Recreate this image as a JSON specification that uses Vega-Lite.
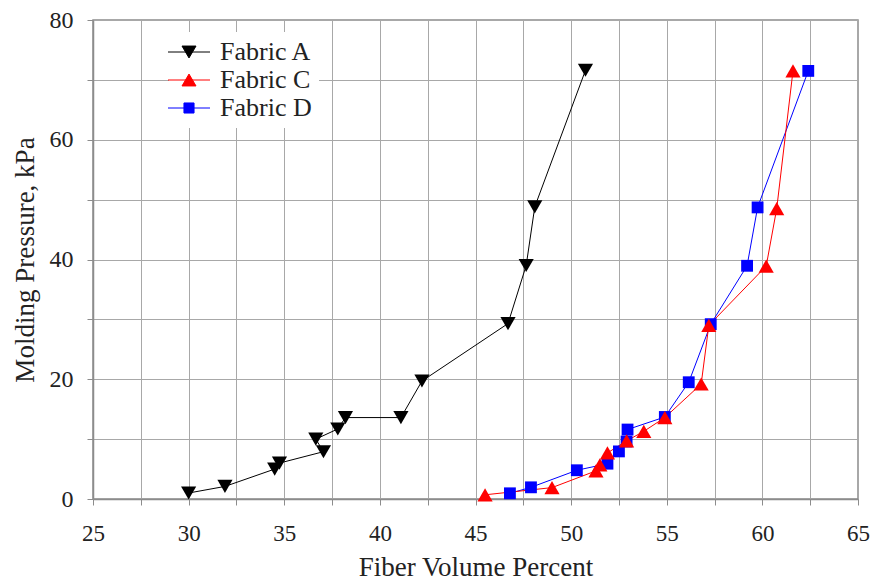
{
  "$schema": "https://vega.github.io/schema/vega-lite/v6.json",
  "autosize": "none",
  "width": 765,
  "height": 479,
  "padding": {"left": 93, "top": 20, "right": 12, "bottom": 83},
  "background": "white",
  "config": {
    "view": {"stroke": "#8c8c8c", "strokeWidth": 1.5},
    "font": "Liberation Serif",
    "axis": {
      "domainColor": "#8c8c8c",
      "domainWidth": 1.5,
      "gridColor": "#a8a8a8",
      "gridWidth": 1,
      "gridOpacity": 1,
      "tickColor": "#8c8c8c",
      "tickSize": 6,
      "labelFont": "Liberation Serif",
      "labelFontSize": 24,
      "labelColor": "#222",
      "titleFont": "Liberation Serif",
      "titleFontSize": 27,
      "titleFontWeight": "normal",
      "titleColor": "#222"
    }
  },
  "data": {
    "values": [
      {"fabric": "Fabric A", "fvp": 30.0, "p": 1.0},
      {"fabric": "Fabric A", "fvp": 31.9, "p": 2.1},
      {"fabric": "Fabric A", "fvp": 34.5, "p": 5.0},
      {"fabric": "Fabric A", "fvp": 34.75, "p": 6.0},
      {"fabric": "Fabric A", "fvp": 37.05, "p": 7.9},
      {"fabric": "Fabric A", "fvp": 36.65, "p": 10.0},
      {"fabric": "Fabric A", "fvp": 37.8, "p": 11.7},
      {"fabric": "Fabric A", "fvp": 38.2, "p": 13.6},
      {"fabric": "Fabric A", "fvp": 41.1, "p": 13.6},
      {"fabric": "Fabric A", "fvp": 42.2, "p": 19.7},
      {"fabric": "Fabric A", "fvp": 46.7, "p": 29.3},
      {"fabric": "Fabric A", "fvp": 47.65, "p": 39.0},
      {"fabric": "Fabric A", "fvp": 48.1, "p": 48.8},
      {"fabric": "Fabric A", "fvp": 50.75, "p": 71.6},
      {"fabric": "Fabric D", "fvp": 46.8, "p": 0.95},
      {"fabric": "Fabric D", "fvp": 47.9, "p": 1.95},
      {"fabric": "Fabric D", "fvp": 50.3, "p": 4.8},
      {"fabric": "Fabric D", "fvp": 51.9, "p": 5.9},
      {"fabric": "Fabric D", "fvp": 52.5, "p": 7.95},
      {"fabric": "Fabric D", "fvp": 52.9, "p": 9.6},
      {"fabric": "Fabric D", "fvp": 52.95, "p": 11.6},
      {"fabric": "Fabric D", "fvp": 54.9, "p": 13.7},
      {"fabric": "Fabric D", "fvp": 56.15, "p": 19.5},
      {"fabric": "Fabric D", "fvp": 57.3, "p": 29.2},
      {"fabric": "Fabric D", "fvp": 59.2, "p": 38.95},
      {"fabric": "Fabric D", "fvp": 59.75, "p": 48.7},
      {"fabric": "Fabric D", "fvp": 62.4, "p": 71.5},
      {"fabric": "Fabric C", "fvp": 45.5, "p": 0.7},
      {"fabric": "Fabric C", "fvp": 49.0, "p": 1.9},
      {"fabric": "Fabric C", "fvp": 51.3, "p": 4.7},
      {"fabric": "Fabric C", "fvp": 51.5, "p": 5.7},
      {"fabric": "Fabric C", "fvp": 51.9, "p": 7.7},
      {"fabric": "Fabric C", "fvp": 52.9, "p": 9.7},
      {"fabric": "Fabric C", "fvp": 53.8, "p": 11.3},
      {"fabric": "Fabric C", "fvp": 54.9, "p": 13.6},
      {"fabric": "Fabric C", "fvp": 56.8, "p": 19.2},
      {"fabric": "Fabric C", "fvp": 57.2, "p": 29.0},
      {"fabric": "Fabric C", "fvp": 60.2, "p": 38.9},
      {"fabric": "Fabric C", "fvp": 60.75, "p": 48.5},
      {"fabric": "Fabric C", "fvp": 61.6, "p": 71.5}
    ]
  },
  "encoding": {
    "x": {
      "field": "fvp",
      "type": "quantitative",
      "title": "Fiber Volume Percent",
      "scale": {"domain": [25, 65], "nice": false, "zero": false},
      "axis": {
        "values": [25, 27.5, 30, 32.5, 35, 37.5, 40, 42.5, 45, 47.5, 50, 52.5, 55, 57.5, 60, 62.5, 65],
        "labelExpr": "datum.value % 5 === 0 ? datum.label : ''",
        "labelOverlap": false,
        "labelFlush": false,
        "labelFontSize": 23,
        "labelPadding": 17,
        "titlePadding": 9
      }
    },
    "y": {
      "field": "p",
      "type": "quantitative",
      "title": "Molding Pressure, kPa",
      "scale": {"domain": [0, 80], "nice": false},
      "axis": {
        "values": [0, 10, 20, 30, 40, 50, 60, 70, 80],
        "labelExpr": "datum.value % 20 === 0 ? datum.label : ''",
        "labelOverlap": false,
        "labelFlush": false,
        "labelPadding": 14,
        "titlePadding": 10
      }
    },
    "color": {
      "field": "fabric",
      "type": "nominal",
      "scale": {"domain": ["Fabric A", "Fabric C", "Fabric D"], "range": ["#000000", "#ff0000", "#0000ff"]},
      "legend": {
        "orient": "none",
        "legendX": 76,
        "legendY": 12,
        "title": null,
        "symbolType": {"expr": "datum.value === 'Fabric A' ? 'M-3,0H3M-1,-0.85L1,-0.85L0,0.85Z' : datum.value === 'Fabric C' ? 'M-3,0H3M-1,0.85L1,0.85L0,-0.85Z' : 'M-3,0H3M-0.72,-0.72H0.72V0.72H-0.72Z'"},
        "symbolSize": 196,
        "symbolStrokeWidth": 1,
        "symbolOpacity": 1,
        "labelFontSize": 26,
        "labelFont": "Liberation Serif",
        "labelColor": "#222",
        "labelOffset": 18,
        "rowPadding": 2,
        "padding": 7,
        "fillColor": "white",
        "zindex": 1
      }
    }
  },
  "layer": [
    {
      "mark": {"type": "line", "strokeWidth": 1},
      "encoding": {
        "order": {"field": "p", "type": "quantitative"}
      }
    },
    {
      "transform": [{"filter": "datum.fabric === 'Fabric A'"}],
      "mark": {"type": "point", "filled": true, "opacity": 1, "shape": "triangle-down", "size": 230}
    },
    {
      "transform": [{"filter": "datum.fabric === 'Fabric D'"}],
      "mark": {"type": "point", "filled": true, "opacity": 1, "shape": "square", "size": 140}
    },
    {
      "transform": [{"filter": "datum.fabric === 'Fabric C'"}],
      "mark": {"type": "point", "filled": true, "opacity": 1, "shape": "triangle-up", "size": 230}
    }
  ]
}
